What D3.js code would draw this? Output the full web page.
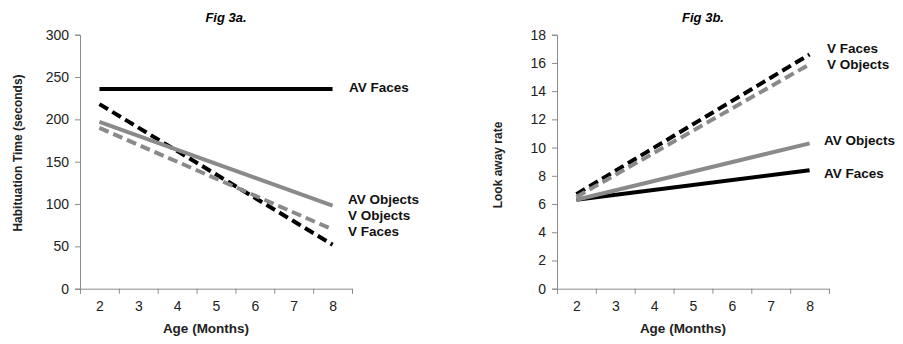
<!DOCTYPE html>
<html lang="en">
<head>
<meta charset="UTF-8">
<title>Fig 3</title>
<style>
  body { margin: 0; background: #fff; }
  text { font-family: "Liberation Sans", Arial, sans-serif; }
  .axis path, .axis line { stroke: #8c8c8c; }
  .axis text { font-size: 14px; fill: #222; }
</style>
</head>
<body>
<div id="chart"></div>
<script src="https://cdn.jsdelivr.net/npm/d3@7"></script>
<script>
// categories on the x axis
let ages = [2, 3, 4, 5, 6, 7, 8]
// the fitted lines only run from the first to the last age
let lineAges = [2, 8]
let seriesNames = ['AV Faces', 'V Faces', 'AV Objects', 'V Objects']

// Fig 3a: habituation time (seconds)
let habAVFaces = [236, 236]
let habVFaces = [218, 52]
let habAVObjects = [197, 98]
let habVObjects = [190, 70]
let habTicks = [0, 50, 100, 150, 200, 250, 300]

// Fig 3b: look away rate
let lookAVFaces = [6.3, 8.4]
let lookVFaces = [6.7, 16.6]
let lookAVObjects = [6.3, 10.3]
let lookVObjects = [6.5, 15.9]
let lookTicks = [0, 2, 4, 6, 8, 10, 12, 14, 16, 18]

let lineStyle = {
  'AV Faces': { color: '#000', dash: null },
  'V Faces': { color: '#000', dash: '10,5' },
  'AV Objects': { color: '#8a8a8a', dash: null },
  'V Objects': { color: '#8a8a8a', dash: '10,5' }
}

let width = 903
let height = 344
let svg = d3.select('#chart').append('svg').attr('width', width).attr('height', height)

function drawPanel (opt) {
  let g = svg.append('g')
  let x = d3.scaleLinear().domain([1.5, 8.5]).range([opt.left, opt.right])
  let y = d3.scaleLinear().domain([0, opt.yMax]).range([288.7, 34.7])

  // y axis
  g.append('g').attr('class', 'axis').attr('transform', 'translate(' + opt.left + ',0)')
    .call(d3.axisLeft(y).tickValues(opt.ticks).tickFormat(d3.format('d')).tickSizeOuter(0).tickSize(5).tickPadding(6))
  // x axis: marks on category boundaries, labels in the middle
  let bounds = d3.range(1.5, 9, 1)
  g.append('g').attr('class', 'axis').attr('transform', 'translate(0,288.7)')
    .call(d3.axisBottom(x).tickValues(bounds).tickFormat('').tickSizeOuter(0).tickSize(5))
  g.append('g').attr('class', 'axis').attr('transform', 'translate(0,288.7)')
    .call(d3.axisBottom(x).tickValues(ages).tickFormat(d3.format('d')).tickSize(0).tickPadding(12))
    .select('.domain').remove()

  // lines
  let line = d3.line().x((d, i) => x(lineAges[i])).y(d => y(d))
  opt.series.forEach((vals, i) => {
    let st = lineStyle[seriesNames[i]]
    g.append('path').datum(vals).attr('d', line)
      .attr('fill', 'none').attr('stroke', st.color).attr('stroke-width', 4)
      .attr('stroke-dasharray', st.dash)
  })

  // labels beside line ends
  opt.labels.forEach(l => {
    g.append('text').attr('x', l.x).attr('y', l.y).attr('dy', '0.35em')
      .attr('font-size', '13.5px').attr('font-weight', 'bold').attr('fill', '#111').text(l.text)
  })

  g.append('text').attr('x', opt.titleX).attr('y', 22).attr('text-anchor', 'middle')
    .attr('font-size', '13px').attr('font-weight', 'bold').attr('font-style', 'italic').text(opt.title)
  g.append('text').attr('x', opt.xTitleX).attr('y', 333).attr('text-anchor', 'middle')
    .attr('font-size', '13.5px').attr('font-weight', 'bold').attr('fill', '#222').text('Age (Months)')
  g.append('text').attr('transform', 'translate(' + opt.yTitleX + ',' + opt.yTitleY + ') rotate(-90)')
    .attr('text-anchor', 'middle').attr('font-size', '12px').attr('font-weight', 'bold').attr('fill', '#222')
    .text(opt.yTitle)
}

drawPanel({
  left: 80, right: 352, yMax: 300, ticks: habTicks,
  series: [habAVFaces, habVFaces, habAVObjects, habVObjects],
  title: 'Fig 3a.', titleX: 226, xTitleX: 206,
  yTitle: 'Habituation Time (seconds)', yTitleX: 22, yTitleY: 153,
  labels: [
    { text: 'AV Faces', x: 349, y: 87 },
    { text: 'AV Objects', x: 348, y: 199 },
    { text: 'V Objects', x: 348, y: 215 },
    { text: 'V Faces', x: 348, y: 231 }
  ]
})

drawPanel({
  left: 557, right: 829, yMax: 18, ticks: lookTicks,
  series: [lookAVFaces, lookVFaces, lookAVObjects, lookVObjects],
  title: 'Fig 3b.', titleX: 703, xTitleX: 683,
  yTitle: 'Look away rate', yTitleX: 502, yTitleY: 165,
  labels: [
    { text: 'V Faces', x: 827, y: 48 },
    { text: 'V Objects', x: 827, y: 64 },
    { text: 'AV Objects', x: 824, y: 140 },
    { text: 'AV Faces', x: 824, y: 173 }
  ]
})
</script>
</body>
</html>
